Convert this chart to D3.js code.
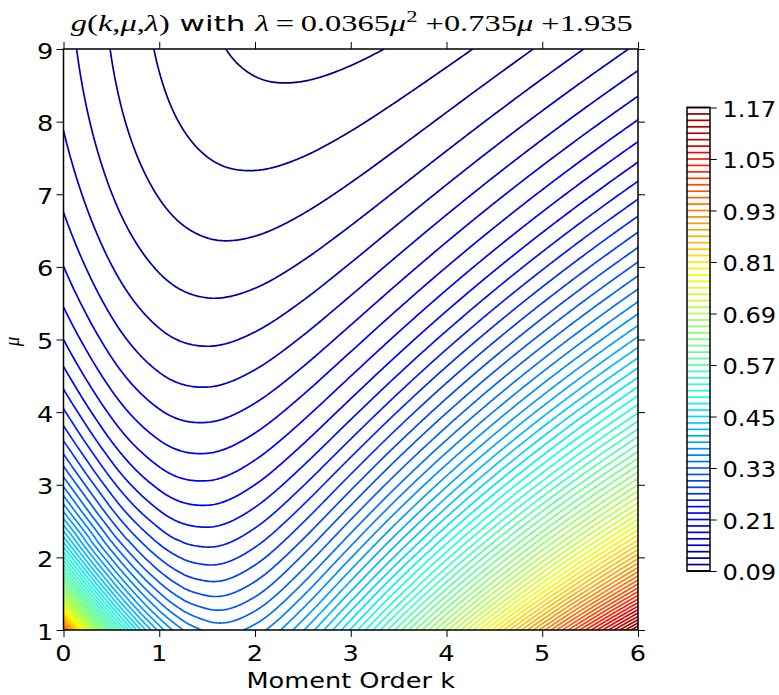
<!DOCTYPE html>
<html>
<head>
<meta charset="utf-8">
<title>g(k,mu,lambda) contour</title>
<script src="https://cdn.jsdelivr.net/npm/d3@7/dist/d3.min.js"></script>
<style>
  html,body{margin:0;padding:0;background:#ffffff;}
  svg{display:block;}
</style>
</head>
<body>
<svg id="chart" width="779" height="695" xmlns="http://www.w3.org/2000/svg"></svg>
<script>
// ---------------- DATA (values of g read for the chart) ----------------
// coarse grid: moment order k (columns) and mu (rows)
const kCoarse = [0, 0.5, 1, 1.5, 2, 2.5, 3, 3.5, 4, 4.5, 5, 5.5, 6];
const muCoarse = [1, 1.5, 2, 2.5, 3, 3.5, 4, 4.5, 5, 5.5, 6, 6.5, 7, 7.5, 8, 8.5, 9];
const gCoarse = [
  [0.97312,0.57592,0.40024,0.34192,0.35166,0.40334,0.48189,0.57809,0.68607,0.80189,0.92289,1.04721,1.17350],
  [0.67919,0.44113,0.33155,0.29784,0.31181,0.35705,0.42343,0.50441,0.59557,0.69388,0.79718,0.90390,1.01292],
  [0.51358,0.35728,0.28394,0.26353,0.27839,0.31758,0.37395,0.44262,0.52024,0.60438,0.69326,0.78558,0.88036],
  [0.41061,0.30081,0.24874,0.23564,0.24980,0.28351,0.33149,0.39007,0.45657,0.52902,0.60598,0.68631,0.76919],
  [0.34187,0.26043,0.22140,0.21235,0.22503,0.25381,0.29472,0.34486,0.40208,0.46478,0.53172,0.60197,0.67474],
  [0.29344,0.23019,0.19946,0.19251,0.20337,0.22778,0.26264,0.30563,0.35502,0.40946,0.46791,0.52953,0.59368],
  [0.25786,0.20677,0.18140,0.17543,0.18435,0.20487,0.23450,0.27139,0.31409,0.36147,0.41262,0.46683,0.52351],
  [0.23088,0.18814,0.16630,0.16062,0.16761,0.18465,0.20975,0.24138,0.27832,0.31960,0.36444,0.41221,0.46240],
  [0.20993,0.17306,0.15356,0.14773,0.15285,0.16680,0.18794,0.21499,0.24691,0.28288,0.32221,0.36436,0.40884],
  [0.19337,0.16073,0.14274,0.13652,0.13987,0.15105,0.16872,0.19175,0.21929,0.25060,0.28510,0.32228,0.36176],
  [0.18015,0.15056,0.13355,0.12679,0.12848,0.13720,0.15177,0.17127,0.19494,0.22215,0.25237,0.28518,0.32018],
  [0.16952,0.14219,0.12578,0.11840,0.11856,0.12505,0.13687,0.15324,0.17349,0.19705,0.22349,0.25238,0.28340],
  [0.16099,0.13533,0.11926,0.11123,0.10996,0.11444,0.12381,0.13739,0.15458,0.17491,0.19795,0.22334,0.25078],
  [0.15417,0.12977,0.11388,0.10517,0.10259,0.10525,0.11242,0.12350,0.13797,0.15539,0.17539,0.19763,0.22187],
  [0.14881,0.12536,0.10950,0.10013,0.09634,0.09736,0.10255,0.11139,0.12340,0.13821,0.15546,0.17489,0.19623],
  [0.14472,0.12197,0.10606,0.09605,0.09113,0.09066,0.09407,0.10088,0.11069,0.12313,0.13792,0.15478,0.17349],
  [0.14171,0.11949,0.10348,0.09285,0.08690,0.08508,0.08686,0.09184,0.09964,0.10996,0.12250,0.13704,0.15335]
];
// finer grid for the steep lower-left corner
const kFine = [0, 0.25, 0.5, 0.75, 1, 1.25, 1.5];
const muFine = [1, 1.25, 1.5, 1.75, 2, 2.25, 2.5];
const gFine = [
  [0.97312,0.73635,0.57592,0.46881,0.40024,0.36025,0.34192],
  [0.80322,0.62377,0.49983,0.41614,0.36245,0.33157,0.31836],
  [0.67919,0.53921,0.44113,0.37437,0.33155,0.30735,0.29784],
  [0.58578,0.47395,0.39473,0.34050,0.30580,0.28655,0.27971],
  [0.51358,0.42242,0.35728,0.31251,0.28394,0.26842,0.26353],
  [0.45653,0.38092,0.32650,0.28899,0.26513,0.25243,0.24892],
  [0.41061,0.34692,0.30081,0.26894,0.24874,0.23817,0.23564]
];
// contour levels
const levels = [0.090,0.105,0.120,0.135,0.150,0.165,0.180,0.195,0.210,0.225,0.240,0.255,0.270,0.285,0.300,
  0.315,0.330,0.345,0.360,0.375,0.390,0.405,0.420,0.435,0.450,0.465,0.480,0.495,0.510,0.525,0.540,0.555,
  0.570,0.585,0.600,0.615,0.630,0.645,0.660,0.675,0.690,0.705,0.720,0.735,0.750,0.765,0.780,0.795,0.810,
  0.825,0.840,0.855,0.870,0.885,0.900,0.915,0.930,0.945,0.960,0.975,0.990,1.005,1.020,1.035,1.050,1.065,
  1.080,1.095,1.110,1.125,1.140,1.155,1.170];
const xTicks = [0, 1, 2, 3, 4, 5, 6];
const yTicks = [1, 2, 3, 4, 5, 6, 7, 8, 9];
const cbTicks = [0.09, 0.21, 0.33, 0.45, 0.57, 0.69, 0.81, 0.93, 1.05, 1.17];
const cbTickLabels = ["0.09","0.21","0.33","0.45","0.57","0.69","0.81","0.93","1.05","1.17"];

// ---------------- LAYOUT ----------------
const W = 779, H = 695;
const box = {left: 63.5, right: 638, top: 49, bottom: 630};
const cb = {left: 687, right: 710, top: 107.5, bottom: 571};
const STRETCH = 1.22;
const SANS = "'DejaVu Sans', 'Bitstream Vera Sans', sans-serif";
const SERIF = "'Liberation Serif', 'DejaVu Serif', serif";
const FS = 21;

const svg = d3.select("#chart");
svg.append("rect").attr("width", W).attr("height", H).attr("fill", "#ffffff");

const kMin = kCoarse[0], kMax = kCoarse[kCoarse.length - 1];
const mMin = muCoarse[0], mMax = muCoarse[muCoarse.length - 1];
const xScale = d3.scaleLinear().domain([kMin, kMax]).range([box.left, box.right]);
const yScale = d3.scaleLinear().domain([mMin, mMax]).range([box.bottom, box.top]);

// jet colormap via d3 scales
const jetR = d3.scaleLinear().domain([0, 0.35, 0.66, 0.89, 1]).range([0, 0, 1, 1, 0.5]).clamp(true);
const jetG = d3.scaleLinear().domain([0, 0.125, 0.375, 0.64, 0.91, 1]).range([0, 0, 1, 1, 0, 0]).clamp(true);
const jetB = d3.scaleLinear().domain([0, 0.11, 0.34, 0.65, 1]).range([0.5, 1, 1, 0, 0]).clamp(true);
const lvNorm = d3.scaleLinear().domain([levels[0], levels[levels.length - 1]]).range([0, 1]).clamp(true);
function jet(v) {
  const t = lvNorm(v);
  return d3.rgb(Math.round(255 * jetR(t)), Math.round(255 * jetG(t)), Math.round(255 * jetB(t))).toString();
}

// ---------------- smooth sampling of the data grids ----------------
function quadExt(a, b, c, t) { return a * (t - 1) * (t - 2) / 2 - b * t * (t - 2) + c * t * (t - 1) / 2; }
function getNode(arr, i) {
  const n = arr.length;
  if (i < 0) return quadExt(arr[0], arr[1], arr[2], i);
  if (i > n - 1) return quadExt(arr[n - 3], arr[n - 2], arr[n - 1], i - (n - 3));
  return arr[i];
}
function cr(p0, p1, p2, p3, t) {
  return 0.5 * (2 * p1 + (-p0 + p2) * t + (2 * p0 - 5 * p1 + 4 * p2 - p3) * t * t + (-p0 + 3 * p1 - 3 * p2 + p3) * t * t * t);
}
function interp1(arr, f) {
  const n = arr.length;
  let i0 = Math.floor(f); if (i0 > n - 2) i0 = n - 2; if (i0 < 0) i0 = 0;
  const t = f - i0;
  return cr(getNode(arr, i0 - 1), getNode(arr, i0), getNode(arr, i0 + 1), getNode(arr, i0 + 2), t);
}
function makeSampler(ks, mus, grid) {
  const dk = ks[1] - ks[0], dm = mus[1] - mus[0], nj = grid.length;
  return function (k, mu) {
    const fi = (k - ks[0]) / dk, fj = (mu - mus[0]) / dm;
    let j0 = Math.floor(fj); if (j0 > nj - 2) j0 = nj - 2; if (j0 < 0) j0 = 0;
    const t = fj - j0;
    const cache = {};
    const rv = r => {
      if (cache[r] !== undefined) return cache[r];
      let v;
      if (r < 0) v = quadExt(rv(0), rv(1), rv(2), r);
      else if (r > nj - 1) v = quadExt(rv(nj - 3), rv(nj - 2), rv(nj - 1), r - (nj - 3));
      else v = interp1(grid[r], fi);
      cache[r] = v; return v;
    };
    return cr(rv(j0 - 1), rv(j0), rv(j0 + 1), rv(j0 + 2), t);
  };
}
const coarseS = makeSampler(kCoarse, muCoarse, gCoarse);
const fineS = makeSampler(kFine, muFine, gFine);
const fineKmax = kFine[kFine.length - 2], fineMmax = muFine[muFine.length - 2];

const NK = 420, NM = 420, PAD = 3;
const dK = (kMax - kMin) / NK, dM = (mMax - mMin) / NM;
const nx = NK + 1 + 2 * PAD, ny = NM + 1 + 2 * PAD;
const k0 = kMin - PAD * dK, m0 = mMin - PAD * dM;
const values = new Array(nx * ny);
for (let j = 0; j < ny; j++) {
  const mu = Math.max(mMin, Math.min(mMax, m0 + j * dM));
  for (let i = 0; i < nx; i++) {
    const k = Math.max(kMin, Math.min(kMax, k0 + i * dK));
    values[j * nx + i] = (k <= fineKmax && mu <= fineMmax) ? fineS(k, mu) : coarseS(k, mu);
  }
}
const contours = d3.contours().size([nx, ny]).thresholds(levels)(values);
const proj = d3.geoTransform({
  point: function (px, py) {
    this.stream.point(xScale(k0 + (px - 0.5) * dK), yScale(m0 + (py - 0.5) * dM));
  }
});
const path = d3.geoPath(proj);

// ---------------- PLOT ----------------
svg.append("defs").append("clipPath").attr("id", "plotclip")
  .append("rect").attr("x", box.left).attr("y", box.top)
  .attr("width", box.right - box.left).attr("height", box.bottom - box.top);

svg.append("g").attr("clip-path", "url(#plotclip)")
  .selectAll("path").data(contours).join("path")
  .attr("d", path)
  .attr("fill", "none")
  .attr("stroke", d => jet(d.value))
  .attr("stroke-width", 1.7)
  .attr("stroke-linejoin", "round");

// ticks (outward on all four sides)
function styleAxis(g) {
  g.select(".domain").remove();
  g.selectAll(".tick line").attr("stroke", "#000").attr("stroke-width", 1);
  g.selectAll(".tick text").remove();
}
svg.append("g").attr("transform", `translate(0,${box.bottom})`)
  .call(d3.axisBottom(xScale).tickValues(xTicks).tickSize(7)).call(styleAxis);
svg.append("g").attr("transform", `translate(0,${box.top})`)
  .call(d3.axisTop(xScale).tickValues(xTicks).tickSize(7)).call(styleAxis);
svg.append("g").attr("transform", `translate(${box.left},0)`)
  .call(d3.axisLeft(yScale).tickValues(yTicks).tickSize(7)).call(styleAxis);
svg.append("g").attr("transform", `translate(${box.right},0)`)
  .call(d3.axisRight(yScale).tickValues(yTicks).tickSize(7)).call(styleAxis);

svg.append("rect").attr("x", box.left).attr("y", box.top)
  .attr("width", box.right - box.left).attr("height", box.bottom - box.top)
  .attr("fill", "none").attr("stroke", "#000").attr("stroke-width", 1.5);

function txt(x, y, s, anchor, opts = {}) {
  const sx = opts.stretch || STRETCH;
  const t = svg.append("text")
    .attr("transform", `translate(${x},${y}) scale(${sx},1)` + (opts.rot ? ` rotate(${opts.rot})` : ""))
    .attr("text-anchor", anchor)
    .attr("font-family", opts.family || SANS)
    .attr("font-size", opts.size || FS)
    .attr("fill", "#000")
    .text(s);
  if (opts.italic) t.attr("font-style", "italic");
  return t;
}
// tick labels
xTicks.forEach(v => txt(xScale(v), 660.6, String(v), "middle"));
yTicks.forEach(v => txt(box.left - 10.2, yScale(v) + 9.5, String(v), "end"));

// axis labels
txt((box.left + box.right) / 2, 687.6, "Moment Order k", "middle");
txt(19, (box.top + box.bottom) / 2 + 2, "\u03bc", "middle", {family: SERIF, italic: true, size: 19, rot: -90, stretch: 1.1});

// title
const title = svg.append("text").attr("text-anchor", "middle")
  .attr("font-size", 23).attr("fill", "#000").attr("font-family", SERIF);
const parts = [
  {t: "g", i: 1}, {t: "("}, {t: "k", i: 1}, {t: ","}, {t: "\u03bc", i: 1}, {t: ","}, {t: "\u03bb", i: 1}, {t: ")"},
  {t: "\u00a0with\u00a0", sans: 1},
  {t: "\u03bb", i: 1}, {t: "\u2009=\u2009"}, {t: "0.0365"}, {t: "\u03bc", i: 1}, {t: "2", sup: 1},
  {t: "\u00a0+"}, {t: "0.735"}, {t: "\u03bc", i: 1}, {t: "\u00a0+"}, {t: "1.935"}
];
let afterSup = false;
parts.forEach(p => {
  const ts = title.append("tspan").text(p.t);
  if (p.i) ts.attr("font-style", "italic");
  if (p.sans) ts.attr("font-family", SANS).attr("font-size", 22);
  if (p.sup) { ts.attr("font-size", 16).attr("dy", -9); afterSup = true; }
  else if (afterSup) { ts.attr("dy", 9); afterSup = false; }
});
const tw = title.node().getBBox().width;
const tScale = 562 / tw;
title.attr("transform", `translate(${(box.left + box.right) / 2 + 1},31) scale(${tScale},1)`);

// ---------------- COLORBAR ----------------
const cbScale = d3.scaleLinear().domain([levels[0], levels[levels.length - 1]]).range([cb.bottom, cb.top]);
svg.append("rect").attr("x", cb.left).attr("y", cb.top)
  .attr("width", cb.right - cb.left).attr("height", cb.bottom - cb.top).attr("fill", "#fff");
svg.append("g").selectAll("line").data(levels).join("line")
  .attr("x1", cb.left).attr("x2", cb.right)
  .attr("y1", d => cbScale(d)).attr("y2", d => cbScale(d))
  .attr("stroke", d => jet(d)).attr("stroke-width", 1.7);
svg.append("g").attr("transform", `translate(${cb.right},0)`)
  .call(d3.axisRight(cbScale).tickValues(cbTicks).tickSize(6.7)).call(styleAxis);
svg.append("rect").attr("x", cb.left).attr("y", cb.top)
  .attr("width", cb.right - cb.left).attr("height", cb.bottom - cb.top)
  .attr("fill", "none").attr("stroke", "#000").attr("stroke-width", 1.5);
cbTicks.forEach((v, i) => txt(722.5, cbScale(v) + 9.1, cbTickLabels[i], "start", {stretch: 1.15}));
</script>
</body>
</html>
